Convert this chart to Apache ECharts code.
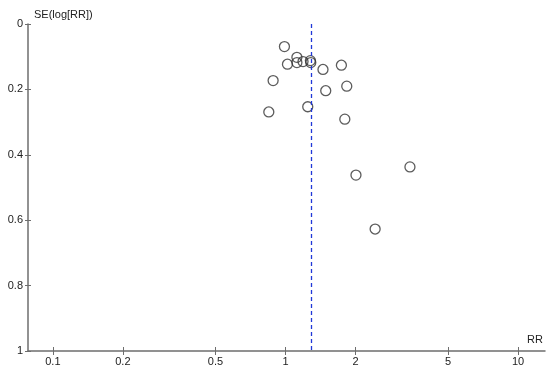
<!DOCTYPE html>
<html>
<head>
<meta charset="utf-8">
<script src="https://cdn.jsdelivr.net/npm/echarts@6/dist/echarts.min.js"></script>
<style>
  html, body { margin: 0; padding: 0; background: #fff; }
  #chart { width: 550px; height: 375px; }
</style>
</head>
<body>
<div id="chart"></div>
<script>
// study estimates (risk ratio) and their standard errors
const rr = [0.99, 1.12, 1.12, 1.02, 1.19, 1.28, 1.285, 1.45, 1.74, 0.885,
            1.835, 1.49, 1.247, 0.848, 1.80, 3.43, 2.01, 2.43]
const se = [0.069, 0.102, 0.118, 0.123, 0.115, 0.112, 0.118, 0.139, 0.126, 0.173,
            0.190, 0.204, 0.253, 0.269, 0.291, 0.437, 0.462, 0.627]
// pooled estimate
const pooledRR = 1.277
// tick labels on the RR axis
const rrTicks = [0.1, 0.2, 0.5, 1, 2, 5, 10]

const lg = v => Math.log10(v)
const fmtRR = v => {
    const t = rrTicks.find(r => Math.abs(lg(r) - v) < 1e-6)
    return t === undefined ? '' : String(t)
}

const font = 'Liberation Sans, Arial, sans-serif'
const axisGray = '#6e6e6e'
const xMin = -1.107, xMax = 1.116

const chart = echarts.init(document.getElementById('chart'))

const option = {
    animation: false,
    grid: { left: 28, right: 5, top: 24, bottom: 24, containLabel: false },
    xAxis: [{
        type: 'value',
        min: xMin,
        max: xMax,
        name: 'RR',
        nameLocation: 'end',
        nameGap: 0,
        nameTextStyle: { fontFamily: font, fontSize: 11, color: '#222', align: 'right', verticalAlign: 'bottom', padding: [0, 2, 6, 0] },
        axisLine: { show: true, onZero: false, lineStyle: { color: axisGray, width: 1.5 } },
        axisTick: { show: true, length: 4, customValues: rrTicks.map(lg), lineStyle: { color: axisGray } },
        axisLabel: { customValues: rrTicks.map(lg), formatter: fmtRR, fontFamily: font, fontSize: 11, color: '#222', margin: 5 },
        splitLine: { show: false }
    }, {
        // inner half of the crossing ticks
        type: 'value',
        position: 'bottom',
        min: xMin,
        max: xMax,
        axisLine: { show: false, onZero: false },
        axisTick: { show: true, inside: true, length: 4, customValues: rrTicks.map(lg), lineStyle: { color: axisGray } },
        axisLabel: { show: false },
        splitLine: { show: false }
    }],
    yAxis: [{
        type: 'value',
        inverse: true,
        min: 0,
        max: 1,
        interval: 0.2,
        name: 'SE(log[RR])',
        nameLocation: 'start',
        nameGap: 4,
        nameTextStyle: { fontFamily: font, fontSize: 11, color: '#222', align: 'left', verticalAlign: 'bottom', padding: [0, 0, 0, 6] },
        axisLine: { show: true, onZero: false, lineStyle: { color: axisGray, width: 1.5 } },
        axisTick: { show: true, length: 3, lineStyle: { color: axisGray } },
        axisLabel: { fontFamily: font, fontSize: 11, color: '#222', margin: 5 },
        splitLine: { show: false }
    }, {
        type: 'value',
        position: 'left',
        inverse: true,
        min: 0,
        max: 1,
        interval: 0.2,
        axisLine: { show: false, onZero: false },
        axisTick: { show: true, inside: true, length: 3, lineStyle: { color: axisGray } },
        axisLabel: { show: false },
        splitLine: { show: false }
    }],
    series: [{
        type: 'scatter',
        data: rr.map((r, i) => [lg(r), se[i]]),
        symbol: 'circle',
        symbolSize: 10,
        itemStyle: { color: 'rgba(0,0,0,0)', borderColor: '#333', borderWidth: 1.3 },
        markLine: {
            silent: true,
            symbol: 'none',
            label: { show: false },
            lineStyle: { color: '#2038d8', type: [4, 3], width: 1.3 },
            data: [{ xAxis: lg(pooledRR) }]
        },
        z: 3
    }]
}

chart.setOption(option)
</script>
</body>
</html>
